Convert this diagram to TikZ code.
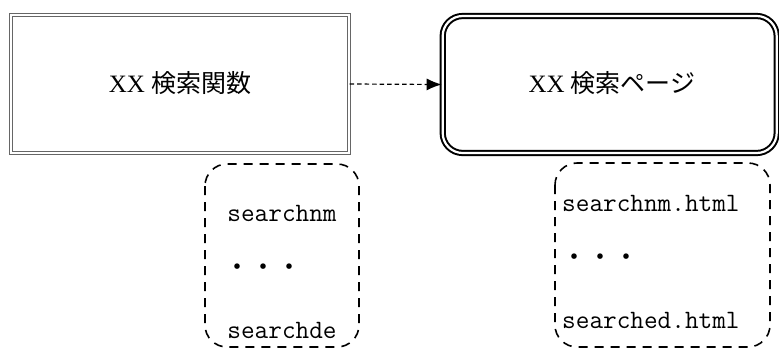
\documentclass[tikz,border=0pt]{standalone}
\usepackage{fontspec}
\setmainfont{Liberation Serif}
\newfontfamily\jp{Noto Sans CJK JP}
\usetikzlibrary{arrows.meta}
\tikzset{
  funcbox/.style={draw=gray!80!black, double=white, double distance=1.8pt, line width=0.9pt, inner sep=0pt},
  pagebox/.style={draw=black, double=white, double distance=2.2pt, line width=2pt, rounded corners=20pt, inner sep=0pt},
  listbox/.style={draw=black, dash pattern=on 9pt off 7pt, line width=1.6pt, rounded corners=22pt},
  title/.style={font=\fontsize{25}{30}\selectfont, inner sep=0pt},
  code/.style={font=\ttfamily\fontsize{26.5}{30}\selectfont, inner sep=0pt},
  dots/.style={font=\jp\fontsize{26}{30}\selectfont, inner sep=0pt},
  flow/.style={draw=black, line width=1.2pt, dash pattern=on 4.5pt off 3pt, -{Latex[length=15pt,width=12pt]}}
}
\begin{document}
\begin{tikzpicture}[x=1pt,y=-1pt]
\useasboundingbox (0,0) rectangle (779,349);
\node[funcbox, minimum width=338.5pt, minimum height=138pt] (func) at (180,84) {};
\node[title] (functext) at (180,83) {XX {\jp 検索関数}};
\node[pagebox, minimum width=334pt, minimum height=137pt] (page) at (609.7,84.5) {};
\node[title] (pagetext) at (612,83) {XX {\jp 検索ページ}};
\draw[flow] (func.east) -- (page.west);
\draw[listbox] (205,164) rectangle (359,347);
\draw[listbox] (555,163) rectangle (770,347);
\node[code] (f1) at (282,213) {searchnm};
\node[dots] (fd) at (263,270) {・・・};
\node[code] (f2) at (282,330) {searchde};
\node[code, anchor=west] (p1) at (562,203) {searchnm.html};
\node[dots] (pd) at (600,260) {・・・};
\node[code, anchor=west] (p2) at (562,320) {searched.html};
\end{tikzpicture}
\end{document}
